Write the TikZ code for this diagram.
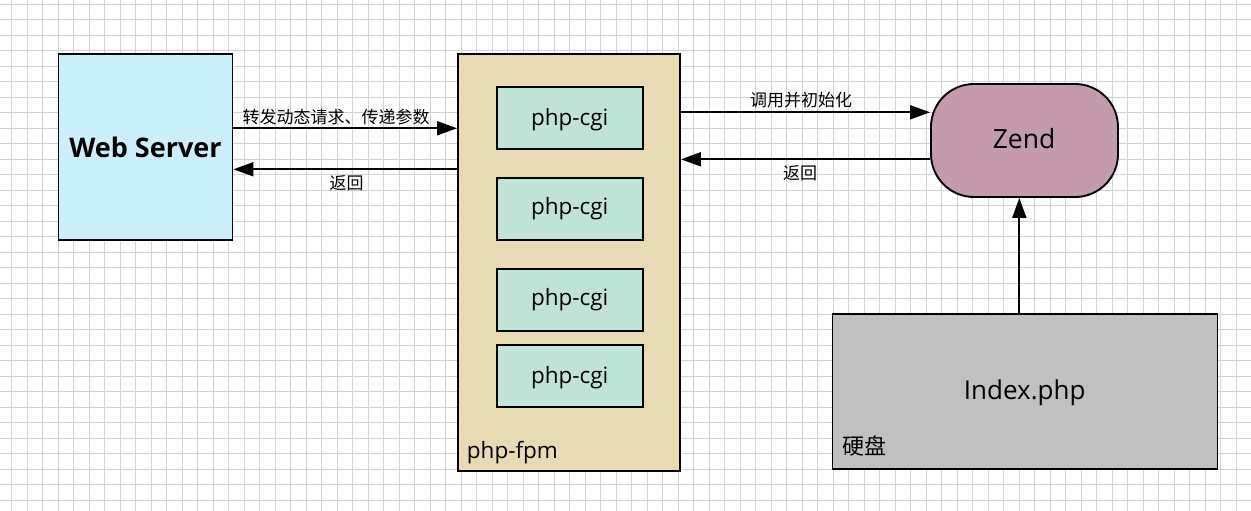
\documentclass[tikz,border=0pt]{standalone}
\usepackage{fontspec}
\setmainfont{Open Sans}
\newfontfamily\cjk{Noto Sans CJK SC}
\usetikzlibrary{arrows.meta}
\definecolor{gridc}{HTML}{D2D2D2}
\definecolor{webc}{HTML}{CCEFFC}
\definecolor{fpmc}{HTML}{E8DAB3}
\definecolor{cgic}{HTML}{C0E3D8}
\definecolor{zendc}{HTML}{C39BAC}
\definecolor{diskc}{HTML}{C0C0C0}
\begin{document}
\begin{tikzpicture}[x=1pt,y=-1pt,
  box/.style={draw=black, line width=1.9pt, inner sep=0pt},
  arr/.style={line width=1.9pt, -{Triangle[length=20pt,width=14pt]}},
  lbl/.style={font=\cjk\fontsize{17}{17}\selectfont, inner sep=0pt},
  cgibox/.style={box, fill=cgic, minimum width=146pt, minimum height=62pt},
  cgitext/.style={inner sep=0pt, anchor=base, font=\fontsize{22.5}{22.5}\selectfont}
]
\useasboundingbox (0,0) rectangle (1251,511);
\fill[white] (0,0) rectangle (1251,511);
\foreach \k in {0,...,79} {
  \draw[gridc, line width=0.9pt] (11.7+15.5*\k,0) -- (11.7+15.5*\k,511);
}
\foreach \k in {0,...,32} {
  \draw[gridc, line width=0.9pt] (0,4+15.5*\k) -- (1251,4+15.5*\k);
}

% Web server
\node[box, fill=webc, minimum width=174pt, minimum height=186pt,
      font=\bfseries\fontsize{27}{27}\selectfont] (web) at (145.5,147) {Web Server};

% php-fpm
\node[box, fill=fpmc, minimum width=222pt, minimum height=417pt] (fpm) at (569,262.5) {};
\node[inner sep=0pt, anchor=base west, font=\fontsize{22.5}{22.5}\selectfont] (fpmlbl) at (466.7,458) {php-fpm};

\node[cgibox] (c1) at (569.7,118) {};
\node[cgitext] (t1) at ([yshift=-7pt]c1.center) {php-cgi};
\node[cgibox] (c2) at (569.7,209) {};
\node[cgitext] (t2) at ([yshift=-5.5pt]c2.center) {php-cgi};
\node[cgibox] (c3) at (569.7,300) {};
\node[cgitext] (t3) at ([yshift=-5.5pt]c3.center) {php-cgi};
\node[cgibox] (c4) at (569.7,376) {};
\node[cgitext] (t4) at ([yshift=-7pt]c4.center) {php-cgi};

% Zend
\node[box, fill=zendc, rounded corners=43pt, minimum width=187pt, minimum height=113pt] (zend) at (1024.5,140.5) {};
\node[inner sep=0pt, anchor=base, font=\fontsize{26.5}{26.5}\selectfont] (zt) at (1024,148.3) {Zend};

% Disk
\node[box, fill=diskc, minimum width=385pt, minimum height=155pt] (disk) at (1025,391.5) {};
\node[inner sep=0pt, anchor=base, font=\fontsize{26}{26}\selectfont] (it) at (1024.7,399.3) {Index.php};
\node[lbl, font=\cjk\fontsize{22}{22}\selectfont] (hd) at (864,446) {硬盘};

% connectors
\draw[arr] ([yshift=18.7pt]web.east) -- ([yshift=18.7pt]web.east -| fpm.west);
\draw[arr] ([yshift=-22.3pt]web.east -| fpm.west) -- ([yshift=-22.3pt]web.east);
\draw[arr] ([yshift=28.2pt]zend.west -| fpm.east) -- ([yshift=28.2pt]zend.west);
\draw[arr] ([yshift=-18.8pt]zend.west) -- ([yshift=-18.8pt]zend.west -| fpm.east);
\draw[arr] ([xshift=-5.7pt]disk.north) -- ([xshift=-5.7pt]disk.north |- zend.south);

% labels
\node[lbl] (l1) at (336,116.7) {转发动态请求、传递参数};
\node[lbl] (l2) at (346.7,183) {返回};
\node[lbl] (l3) at (801,100.5) {调用并初始化};
\node[lbl] (l4) at (800,173) {返回};
\end{tikzpicture}
\end{document}
